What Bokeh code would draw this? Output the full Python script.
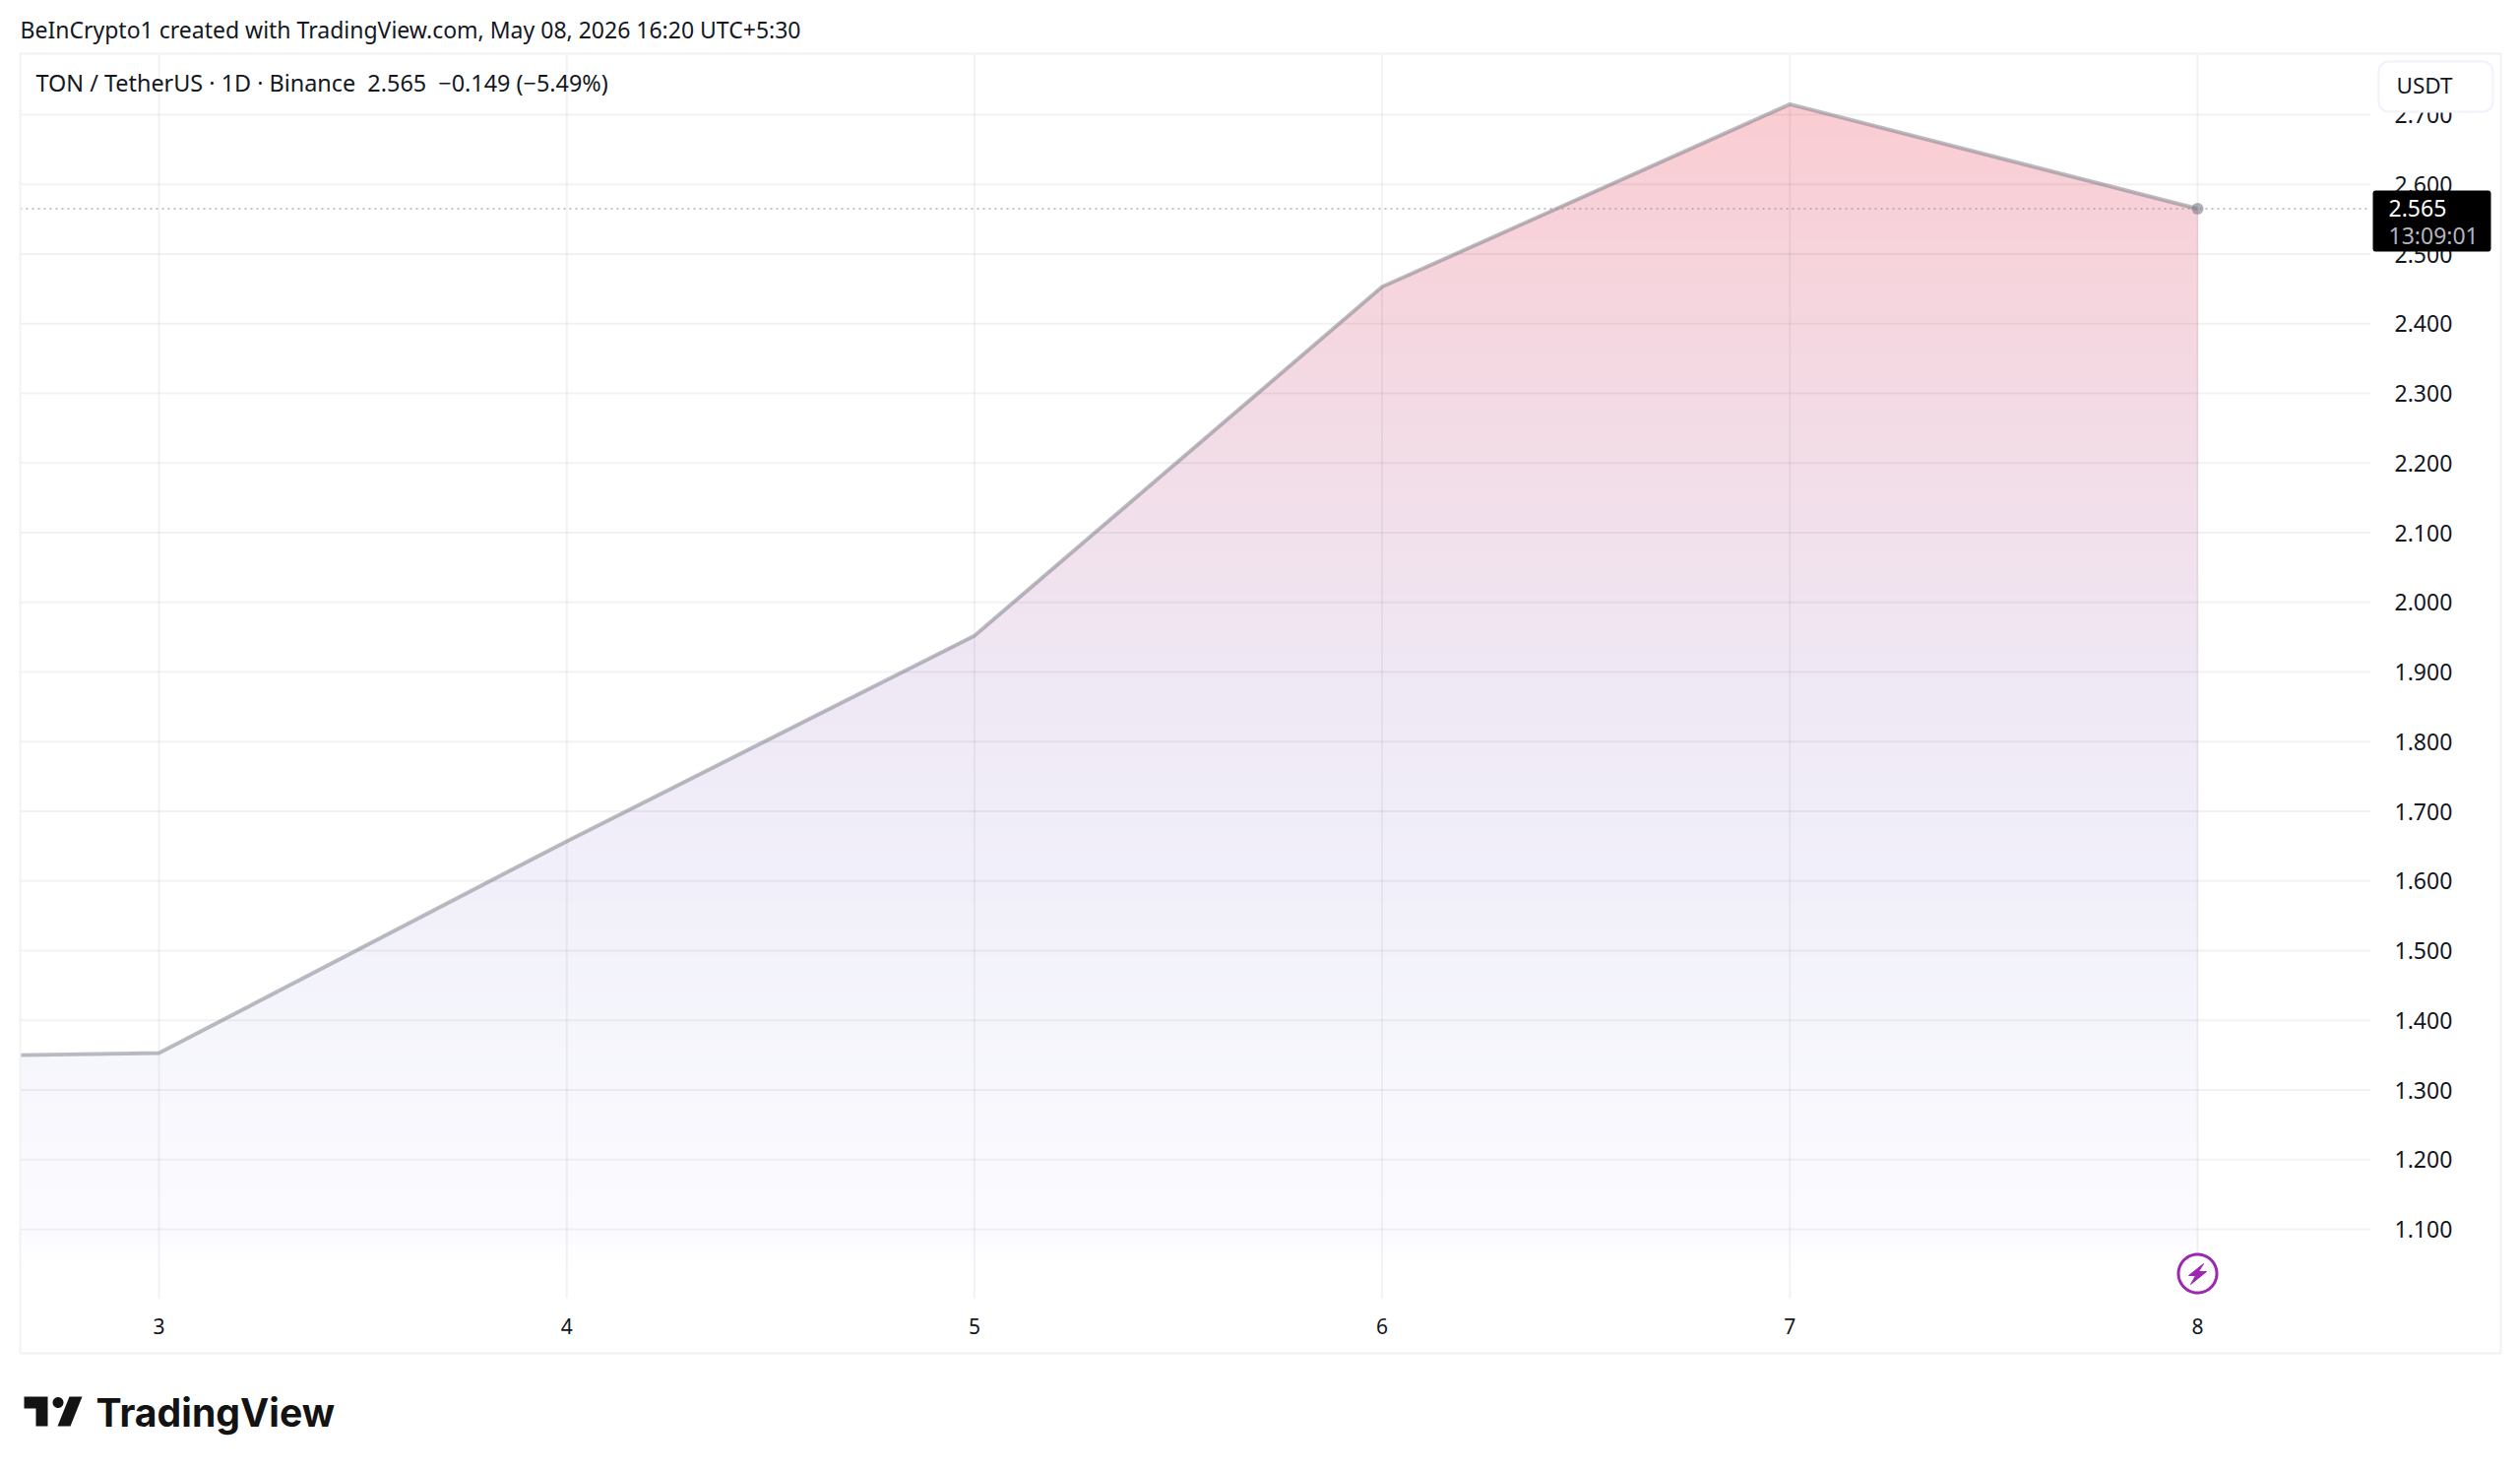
from bokeh.plotting import figure
from bokeh.models import (Range1d, LinearAxis, FixedTicker, Label, BoxAnnotation, PolyAnnotation,
                          CustomJSTickFormatter)
from bokeh.embed import file_html
from bokeh.resources import INLINE
import numpy as np

# ---- data ----
days = [2.66, 3, 4, 5, 6, 7, 8]
close = [1.350, 1.353, 1.657, 1.952, 2.453, 2.715, 2.565]
price_ticks = [1.1, 1.2, 1.3, 1.4, 1.5, 1.6, 1.7, 1.8, 1.9, 2.0, 2.1, 2.2, 2.3, 2.4, 2.5, 2.6, 2.7]
day_ticks = [3, 4, 5, 6, 7, 8]
last_price = 2.565
last_day = 8
header = "BeInCrypto1 created with TradingView.com, May 08, 2026 16:20 UTC+5:30"
legend = "TON / TetherUS \u00b7 1D \u00b7 Binance\u00a0\u00a02.565\u00a0\u00a0\u22120.149 (\u22125.49%)"
countdown = "13:09:01"

W, H = 2544, 1478
FONT = "Noto Sans"
px_per_day = 414.2
px_per_unit = 707.5

def data_x(px): return 3 + (px - 161) / px_per_day
def data_y(py): return 2.7 - (py - 116) / px_per_unit

# the frame fills the whole canvas; the axes sit inside it through negative standoffs
p = figure(width=W, height=H, output_backend="svg", toolbar_location=None,
           frame_width=W, frame_height=H,
           x_range=Range1d(data_x(0), data_x(W)), y_range=Range1d(data_y(H), data_y(0)),
           x_axis_location=None, y_axis_location=None, min_border=0,
           background_fill_color="white", border_fill_color="white", outline_line_color=None)
p.xgrid.visible = False
p.ygrid.visible = False

# gradient area: opaque bands painted top colour first, each clipped to the price line
stop_y = [105, 400, 695, 900, 1100, 1250, 1285]
stop_rgb = np.array([[250, 204, 210], [243, 218, 228], [239, 232, 245], [241, 240, 250],
                     [247, 247, 253], [251, 251, 255], [255, 255, 255]], float)
v_top, v_bot = max(close), data_y(1285)
xs = np.array(days, float)
ys = np.array(close, float)
edges = np.linspace(v_top, v_bot, 400)
for i, e in enumerate(edges[:-1]):
    py = 116 + (2.7 - e) * px_per_unit
    c = [np.interp(py, stop_y, stop_rgb[:, k]) for k in range(3)]
    col = "#%02x%02x%02x" % tuple(int(round(k)) for k in c)
    xx = list(xs)
    for j in range(len(xs) - 1):
        if (ys[j] - e) * (ys[j + 1] - e) < 0:
            xx.append(xs[j] + (e - ys[j]) / (ys[j + 1] - ys[j]) * (xs[j + 1] - xs[j]))
    xx = np.array(sorted(xx))
    yy = np.minimum(np.interp(xx, xs, ys), e)
    p.varea(x=xx, y1=v_bot, y2=yy, fill_color=col, fill_alpha=1)

# pane grid
p.segment(x0=day_ticks, x1=day_ticks, y0=data_y(54), y1=data_y(1318), line_color="black", line_alpha=0.05, line_width=2)
p.segment(x0=data_x(20), x1=data_x(2408), y0=price_ticks, y1=price_ticks, line_color="black", line_alpha=0.05, line_width=2)

p.line(days, close, line_color="#787b86", line_alpha=0.5, line_width=4)
p.scatter([last_day], [last_price], size=12, fill_color="#787b86", fill_alpha=0.6, line_color=None)
p.segment(x0=data_x(20), x1=data_x(2406), y0=last_price, y1=last_price, line_color="#8a8e99", line_width=1.5,
          line_dash="2 4", line_alpha=0.7)

# axes
ax_r = LinearAxis(ticker=FixedTicker(ticks=price_ticks), major_tick_line_color=None, minor_tick_line_color=None,
                  axis_line_color=None, major_label_standoff=2426 - W, major_label_text_font=FONT,
                  major_label_text_font_size="23px", major_label_text_color="#131722",
                  formatter=CustomJSTickFormatter(code="return tick.toFixed(3)"))
p.add_layout(ax_r, "right")
ax_b = LinearAxis(ticker=FixedTicker(ticks=day_ticks), major_tick_line_color=None, minor_tick_line_color=None,
                  axis_line_color=None, major_label_standoff=1332 - H, major_label_text_font=FONT,
                  major_label_text_font_size="21px", major_label_text_color="#131722",
                  formatter=CustomJSTickFormatter(code="return tick.toFixed(0)"))
p.add_layout(ax_b, "below")

def box(l, r, t, b, **kw):
    p.add_layout(BoxAnnotation(left=l, right=r, top=t, bottom=b, left_units="canvas", right_units="canvas",
                               top_units="canvas", bottom_units="canvas", level="overlay", **kw))

def label(x, y, text, size, color="#131722", font=FONT, style="normal", align="left"):
    p.add_layout(Label(x=x, y=y, x_units="canvas", y_units="canvas", text=text, text_font=font,
                       text_font_size=f"{size}px", text_color=color, text_baseline="middle", text_align=align,
                       text_font_style=style, level="overlay"))

def poly(xs_, ys_, fill, **kw):
    opts = dict(line_color=None)
    opts.update(kw)
    p.add_layout(PolyAnnotation(xs=[float(v) for v in xs_], ys=[float(v) for v in ys_], xs_units="canvas", ys_units="canvas",
                                fill_color=fill, fill_alpha=1, level="overlay", **opts))

# outer frame
box(20, 2540, 54, 1374, fill_alpha=0, line_color="#f2f2f4", line_alpha=1, line_width=2)

# currency button
box(2416, 2532, 62, 113, fill_color="white", fill_alpha=1, line_color="#f0f3fa", line_alpha=1, line_width=2, border_radius=10)
label(2434, 86, "USDT", 22.5)

# last price tag
box(2410, 2530, 193, 255, fill_color="black", fill_alpha=1, line_color=None, border_radius=3)
label(2426, 210.5, f"{last_price:.3f}", 23, color="white")
label(2426, 238, countdown, 23, color="#b2b5be")

label(20, 29, header, 23)
label(36, 83, legend, 23.4)

# lightning icon
t = np.linspace(0, 2 * np.pi, 80)
poly(2232 + 19.5 * np.cos(t), 1293 + 19.5 * np.sin(t), "white", line_color="#9c27b0", line_alpha=1, line_width=3)
poly([2238, 2223, 2230, 2225, 2241, 2233], [1283, 1295, 1295, 1304, 1291, 1291], "#9c27b0",
     line_color="#9c27b0", line_alpha=1, line_width=1)

# logo
LOGO = "#131313"
poly([24, 48, 48, 36, 36, 24], [1418, 1418, 1448, 1448, 1430, 1430], LOGO)
poly([83, 71, 58, 70], [1418, 1448, 1448, 1418], LOGO)
poly(58.5 + 5.5 * np.cos(t), 1424 + 5.5 * np.sin(t), LOGO)
label(97, 1434, "TradingView", 39.2, color=LOGO, font="Inter", style="bold")

open("out.html", "w").write(file_html(p, INLINE))
